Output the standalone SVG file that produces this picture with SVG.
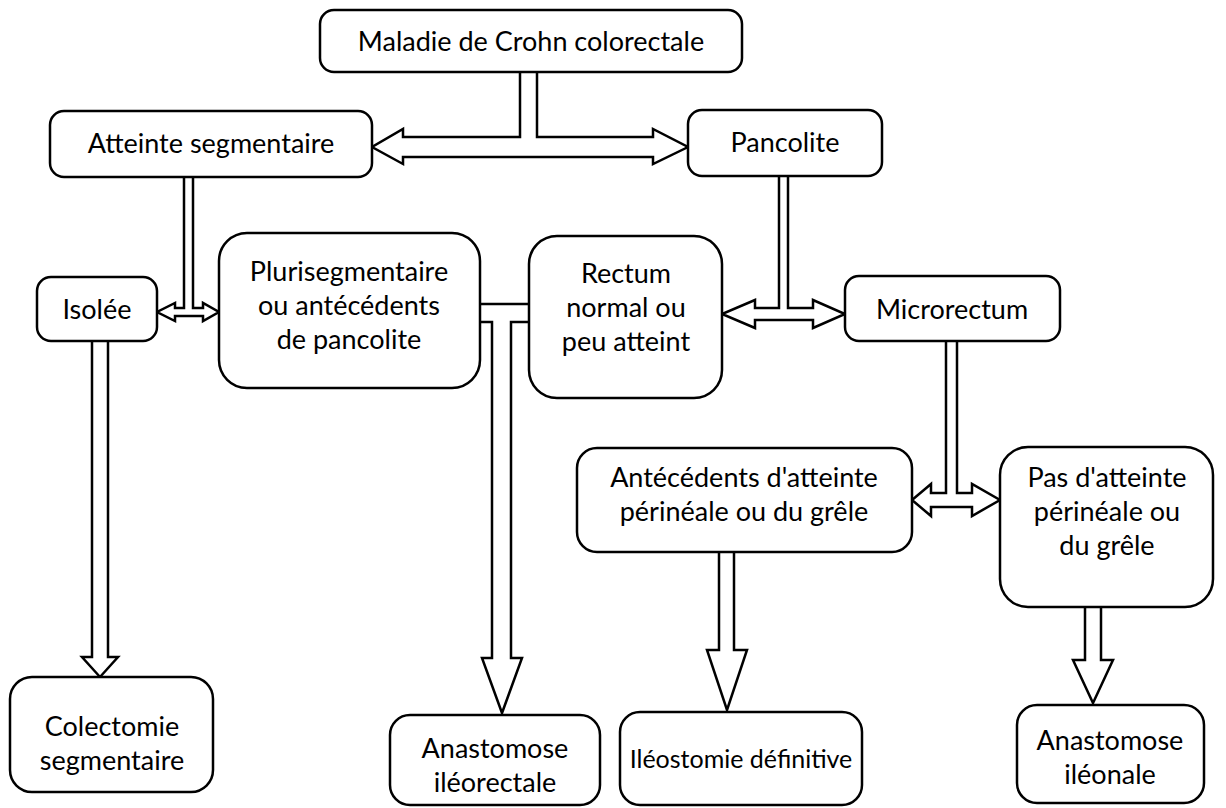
<svg xmlns="http://www.w3.org/2000/svg" width="1226" height="808" viewBox="0 0 1226 808">
<style>
.box{fill:#fff;stroke:#000;stroke-width:2.5}
.con{fill:#fff;stroke:#000;stroke-width:2.5;stroke-linejoin:miter}
.ln{fill:none;stroke:#000;stroke-width:2.5}
text{font-family:Lato,"Liberation Sans",sans-serif;font-size:27px;fill:#000;text-anchor:middle}
.sm{font-size:25px}
</style>
<rect width="1226" height="808" fill="#fff"/>
<g id="connectors">
<path class="con" d="M520,72 V137 H403 V129 L372,147 L403,164 V157 H653 V164 L688,147 L653,129 V137 H537 V72"/>
<path class="con" d="M184,177 V308 H175 V303 L157,312 L175,321 V316 H203 V321 L219,312 L203,303 V308 H193 V177"/>
<path class="ln" d="M480,304 H529"/>
<path class="con" d="M480,322 H492 V658 H482 L502,713 L522,658 H511 V322 H529"/>
<path class="con" d="M779,176 V308 H755 V300 L722,314 L755,328 V320 H813 V328 L845,314 L813,300 V308 H788 V176"/>
<path class="con" d="M946,341 V493 H931 V484 L912,500 L931,516 V507 H972 V516 L1000,500 L972,484 V493 H957 V341"/>
<path class="con" d="M92,341 V657 H82 L100,677 L118,657 H108 V341"/>
<path class="con" d="M719,552 V650 H707 L727,710 L747,650 H734 V552"/>
<path class="con" d="M1085,607 V660 H1073 L1093,703 L1113,660 H1101 V607"/>
</g>
<g id="n-maladie"><rect class="box" x="320" y="10" width="422" height="62" rx="14"/><text x="531" y="51">Maladie de Crohn colorectale</text></g>
<g id="n-atteinte"><rect class="box" x="50" y="111" width="322" height="66" rx="14"/><text x="211" y="153">Atteinte segmentaire</text></g>
<g id="n-pancolite"><rect class="box" x="688" y="110" width="194" height="66" rx="14"/><text x="785" y="152">Pancolite</text></g>
<g id="n-isolee"><rect class="box" x="37" y="277" width="120" height="64" rx="14"/><text x="97" y="319">Isolée</text></g>
<g id="n-pluri"><rect class="box" x="219" y="233" width="261" height="155" rx="28"/><text x="349" y="281">Plurisegmentaire</text><text x="349" y="315">ou antécédents</text><text x="349" y="349">de pancolite</text></g>
<g id="n-rectum"><rect class="box" x="529" y="236" width="193" height="162" rx="28"/><text x="626" y="283">Rectum</text><text x="626" y="317">normal ou</text><text x="626" y="351">peu atteint</text></g>
<g id="n-micro"><rect class="box" x="845" y="276" width="215" height="65" rx="14"/><text x="952" y="319">Microrectum</text></g>
<g id="n-ant"><rect class="box" x="577" y="448" width="335" height="104" rx="20"/><text x="744" y="487">Antécédents d'atteinte</text><text x="744" y="521">périnéale ou du grêle</text></g>
<g id="n-pas"><rect class="box" x="1000" y="447" width="213" height="160" rx="28"/><text x="1107" y="487">Pas d'atteinte</text><text x="1107" y="521">périnéale ou</text><text x="1107" y="555">du grêle</text></g>
<g id="n-colect"><rect class="box" x="10" y="677" width="203" height="115" rx="22"/><text x="112" y="736">Colectomie</text><text x="112" y="770">segmentaire</text></g>
<g id="n-ileorect"><rect class="box" x="390" y="715" width="210" height="90" rx="20"/><text x="495" y="758">Anastomose</text><text x="495" y="792">iléorectale</text></g>
<g id="n-ileost"><rect class="box" x="620" y="712" width="242" height="93" rx="20"/><text class="sm" x="741" y="768">Iléostomie définitive</text></g>
<g id="n-ileonale"><rect class="box" x="1017" y="705" width="187" height="98" rx="20"/><text x="1110" y="750">Anastomose</text><text x="1110" y="784">iléonale</text></g>
</svg>
